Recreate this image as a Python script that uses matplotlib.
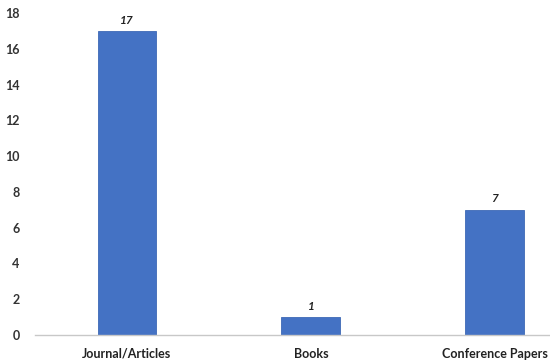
import matplotlib
matplotlib.use('Agg')
import matplotlib.pyplot as plt

categories = ["Journal/Articles", "Books", "Conference Papers"]
counts = [17, 1, 7]
yticks = [0, 2, 4, 6, 8, 10, 12, 14, 16, 18]

plt.rcParams['font.family'] = ['Lato', 'DejaVu Sans']

fig = plt.figure(figsize=(5.5, 3.62), dpi=100)
ax = fig.add_axes([35 / 550, 27 / 362, 1 - 35 / 550, 322 / 362])

x = list(range(len(categories)))
bars = ax.bar(x, counts, width=0.32, color='#4472C4', edgecolor='#3d68b5', linewidth=0.6)
for xi, c in zip(x, counts):
    ax.text(xi, c + 0.3, str(c), ha='center', va='bottom', fontsize=8.5,
            fontweight='bold', fontstyle='italic', color='#222222')

ax.set_xlim(-0.50, 2.30)
ax.set_ylim(0, 18)
ax.set_xticks(x)
ax.set_xticklabels(categories, fontsize=9, fontweight='bold', color='#222222')
ax.set_yticks(yticks)
ax.set_yticklabels([str(t) for t in yticks], fontsize=9, fontweight='bold', color='#333333')
ax.tick_params(length=0, pad=11)
ax.tick_params(axis='x', pad=9)

for s in ['top', 'right', 'left']:
    ax.spines[s].set_visible(False)
ax.spines['bottom'].set_color('#c8c8c8')
ax.spines['bottom'].set_linewidth(1)

fig.savefig('out.png', dpi=100)
